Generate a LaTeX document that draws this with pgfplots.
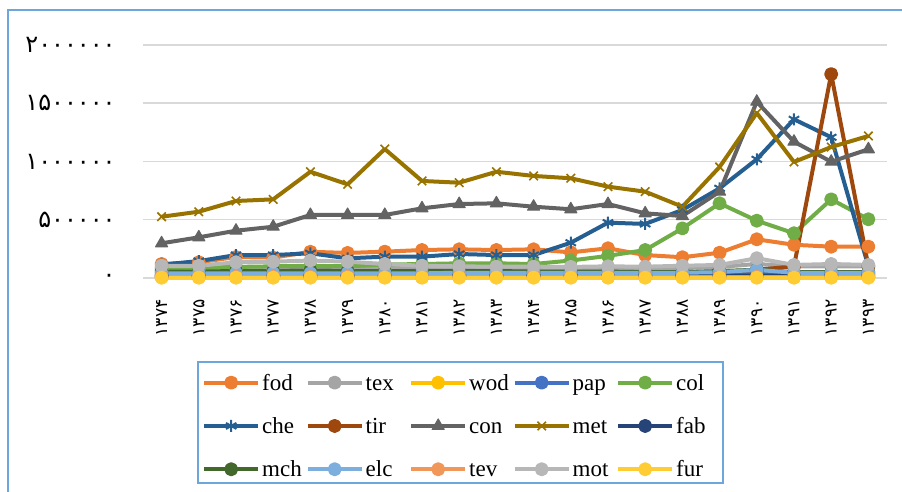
\documentclass[border=0pt]{standalone}
\usepackage{fontspec}
\setmainfont{Liberation Serif}
\newfontfamily\fa[Script=Arabic]{DejaVu Sans}
\usepackage{pgfplots}
\usepackage{pgfplotstable}
\pgfplotsset{compat=1.18}
\definecolor{cfod}{HTML}{ED7D31}
\definecolor{ctex}{HTML}{A5A5A5}
\definecolor{cwod}{HTML}{FFC000}
\definecolor{cpap}{HTML}{4472C4}
\definecolor{ccol}{HTML}{70AD47}
\definecolor{cche}{HTML}{255E91}
\definecolor{ctir}{HTML}{9E480E}
\definecolor{ccon}{HTML}{636363}
\definecolor{cmet}{HTML}{997300}
\definecolor{cfab}{HTML}{264478}
\definecolor{cmch}{HTML}{43682B}
\definecolor{celc}{HTML}{7CAFDD}
\definecolor{ctev}{HTML}{F1975A}
\definecolor{cmot}{HTML}{B7B7B7}
\definecolor{cfur}{HTML}{FFCD33}
\definecolor{gridgray}{HTML}{D9D9D9}
\definecolor{bordercol}{HTML}{6CA6DA}
\pgfplotstableread{
x fod tex wod pap col che tir con met fab mch elc tev mot fur
0 120000 70000 5000 25000 85000 115000 20000 298000 526000 15000 55000 40000 10000 105000 3000
1 135000 70000 5000 25000 90000 145000 20000 349000 569000 15000 55000 40000 10000 105000 3000
2 180000 80000 5000 25000 95000 197000 20000 406000 661000 15000 60000 40000 10000 135000 3000
3 175000 80000 5000 25000 100000 197000 20000 440000 675000 15000 60000 40000 10000 140000 3000
4 225000 85000 5000 30000 105000 212000 20000 541000 912000 15000 65000 40000 10000 150000 3000
5 215000 85000 5000 30000 100000 169000 20000 541000 804000 15000 60000 40000 10000 140000 3000
6 226000 85000 5000 30000 115000 183000 20000 541000 1107000 15000 60000 40000 10000 120000 3000
7 240000 85000 5000 30000 120000 183000 20000 598000 833000 15000 60000 40000 10000 105000 3000
8 246000 85000 5000 30000 126000 206000 20000 635000 818000 20000 60000 45000 10000 100000 3000
9 240000 85000 5000 30000 126000 197000 20000 641000 912000 20000 60000 45000 10000 97000 3000
10 246000 85000 5000 30000 120000 197000 20000 612000 876000 20000 55000 45000 10000 97000 3000
11 220000 85000 5000 30000 150000 303000 20000 590000 856000 20000 55000 45000 10000 95000 3000
12 255000 85000 5000 30000 190000 475000 20000 635000 784000 20000 55000 45000 10000 100000 3000
13 197000 80000 5000 30000 240000 464000 20000 555000 741000 20000 50000 45000 10000 97000 3000
14 178000 85000 5000 30000 426000 584000 20000 532000 612000 20000 50000 45000 10000 105000 3000
15 217000 95000 5000 35000 641000 770000 50000 741000 953000 20000 60000 50000 10000 112000 3000
16 332000 120000 5000 40000 492000 1019000 70000 1513000 1416000 20000 70000 70000 10000 170000 3000
17 285000 100000 5000 35000 384000 1362000 100000 1170000 996000 20000 50000 45000 10000 112000 3000
18 269000 100000 5000 35000 675000 1208000 1750000 998000 1124000 20000 50000 45000 10000 120000 3000
19 269000 100000 5000 35000 504000 100000 100000 1105000 1219000 20000 50000 45000 10000 112000 3000
}\data
\newcommand{\lgx}[1]{\makebox[20.25pt][l]{#1}}
\tikzset{
  rowA/.style={text height=13.15pt, text depth=2pt},
  rowB/.style={text height=9pt, text depth=2pt},
}
\begin{document}
\begin{tikzpicture}
\path[use as bounding box] (0,0) rectangle (451pt,246pt);
\draw[bordercol, line width=1pt] (3.75pt,0) -- (3.75pt,241pt) -- (451pt,241pt);
\begin{axis}[
  at={(71.5pt,107pt)}, anchor=south west,
  width=372pt, height=116.5pt, scale only axis,
  xmin=-0.5, xmax=19.5, ymin=0, ymax=2000000,
  clip=false,
  scaled y ticks=false,
  axis line style={draw=none},
  major tick length=0pt,
  ymajorgrids, grid style={gridgray, line width=0.75pt},
  xtick={0,...,19},
  xticklabels={۱۳۷۴,۱۳۷۵,۱۳۷۶,۱۳۷۷,۱۳۷۸,۱۳۷۹,۱۳۸۰,۱۳۸۱,۱۳۸۲,۱۳۸۳,۱۳۸۴,۱۳۸۵,۱۳۸۶,۱۳۸۷,۱۳۸۸,۱۳۸۹,۱۳۹۰,۱۳۹۱,۱۳۹۲,۱۳۹۳},
  ytick={0,500000,1000000,1500000,2000000},
  yticklabels={۰,۵۰۰۰۰۰,۱۰۰۰۰۰۰,۱۵۰۰۰۰۰,۲۰۰۰۰۰۰},
  xticklabel style={rotate=90, anchor=east, inner xsep=10.5pt, inner ysep=0pt, font=\fa\fontsize{8.6}{10}\selectfont},
  yticklabel style={anchor=east, inner sep=0pt, xshift=-13.5pt, font=\fa\fontsize{12}{13}\selectfont},
  every axis plot/.append style={line width=2pt, line join=round},
  legend columns=5,
  legend style={at={(axis description cs:0.4267,-0.356)}, anchor=north,
    draw=bordercol, line width=1pt, inner xsep=2pt, inner ysep=1pt,
    font=\rmfamily\fontsize{11.5}{13}\selectfont,
    cells={anchor=base west},
    nodes={inner ysep=0pt, inner xsep=1pt},
    /tikz/every even column/.append style={column sep=0.5pt},
    row sep=10.65pt},
  legend image code/.code={\draw[mark repeat=2,mark phase=2] plot coordinates {(0pt,3.8pt) (13.5pt,3.8pt) (27pt,3.8pt)};},
]
\addplot[cfod, mark=*, mark size=2.5pt] table[x=x,y=fod]{\data}; \addlegendentry[rowA]{\lgx{fod}}
\addplot[ctex, mark=*, mark size=2.5pt] table[x=x,y=tex]{\data}; \addlegendentry[rowA]{\lgx{tex}}
\addplot[cwod, mark=*, mark size=2.5pt] table[x=x,y=wod]{\data}; \addlegendentry[rowA]{\lgx{wod}}
\addplot[cpap, mark=*, mark size=2.5pt] table[x=x,y=pap]{\data}; \addlegendentry[rowA]{\lgx{pap}}
\addplot[ccol, mark=*, mark size=2.5pt] table[x=x,y=col]{\data}; \addlegendentry[rowA]{\lgx{col}}
\addplot[cche, mark=asterisk, mark size=3pt, mark options={line width=1pt}] table[x=x,y=che]{\data}; \addlegendentry[rowB]{\lgx{che}}
\addplot[ctir, mark=*, mark size=2.5pt] table[x=x,y=tir]{\data}; \addlegendentry[rowB]{\lgx{tir}}
\addplot[ccon, mark=triangle*, mark size=3.5pt, mark options={line width=0.5pt}] table[x=x,y=con]{\data}; \addlegendentry[rowB]{\lgx{con}}
\addplot[cmet, mark=x, mark size=3pt, mark options={line width=0.8pt}] table[x=x,y=met]{\data}; \addlegendentry[rowB]{\lgx{met}}
\addplot[cfab, mark=*, mark size=2.5pt] table[x=x,y=fab]{\data}; \addlegendentry[rowB]{\lgx{fab}}
\addplot[cmch, mark=*, mark size=2.5pt] table[x=x,y=mch]{\data}; \addlegendentry[rowB]{\lgx{mch}}
\addplot[celc, mark=*, mark size=2.5pt] table[x=x,y=elc]{\data}; \addlegendentry[rowB]{\lgx{elc}}
\addplot[ctev, mark=*, mark size=2.5pt] table[x=x,y=tev]{\data}; \addlegendentry[rowB]{\lgx{tev}}
\addplot[cmot, mark=*, mark size=2.5pt] table[x=x,y=mot]{\data}; \addlegendentry[rowB]{\lgx{mot}}
\addplot[cfur, mark=*, mark size=2.5pt] table[x=x,y=fur]{\data}; \addlegendentry[rowB]{\lgx{fur}}
\end{axis}
\end{tikzpicture}
\end{document}
